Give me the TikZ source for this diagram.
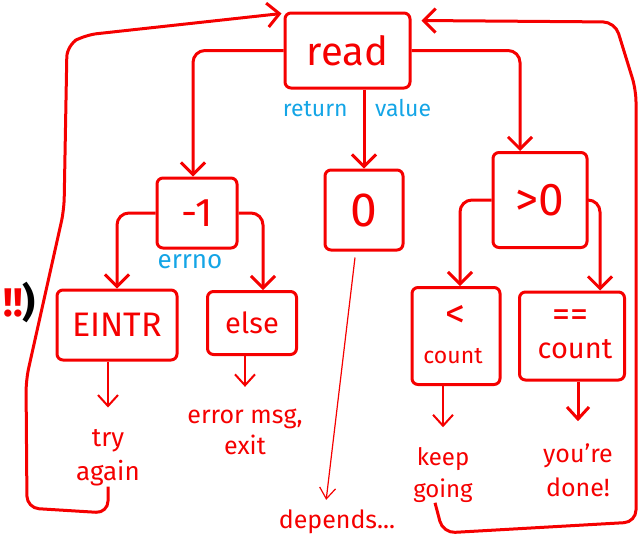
\documentclass[tikz,border=0pt]{standalone}
\usepackage{fontspec}
\setmainfont{Fira Sans}
\usetikzlibrary{arrows.meta}
\definecolor{myred}{RGB}{245,0,0}
\definecolor{myblue}{RGB}{20,165,230}
\begin{document}
\begin{tikzpicture}[x=1pt,y=-1pt,
 box/.style={draw=myred, line width=3pt, rounded corners=6pt, inner sep=0pt, text=myred, align=center},
 flow/.style={draw=myred, line width=3pt, rounded corners=12pt, -{Straight Barb[length=12pt,width=24pt]}},
 small/.style={draw=myred, line width=2pt, -{Straight Barb[length=11pt,width=20pt]}},
 hair/.style={draw=myred, line width=1.2pt, -{Straight Barb[length=11pt,width=16pt]}},
 lbl/.style={text=myred, align=center, inner sep=0pt},
 note/.style={text=myblue, inner sep=0pt}]
\useasboundingbox (0,0) rectangle (639,542);

% boxes
\node[box, minimum width=125pt, minimum height=75pt, font={\fontsize{40}{40}\selectfont}] (read) at (347.5,50.5) {read};
\node[box, minimum width=80pt, minimum height=70pt, font={\fontsize{40}{40}\selectfont}] (m1) at (197,213) {-1};
\node[box, minimum width=78pt, minimum height=80pt, font={\fontsize{48}{48}\selectfont}] (zero) at (364,210) {0};
\node[box, minimum width=94pt, minimum height=95pt, font={\fontsize{46}{46}\selectfont}] (gt) at (540,200) {>0};
\node[box, minimum width=120pt, minimum height=70pt, font={\fontsize{34}{34}\selectfont}] (eintr) at (117,325) {EINTR};
\node[box, minimum width=89pt, minimum height=63pt, font={\fontsize{29}{29}\selectfont}] (else) at (252,323) {else};
\node[box, minimum width=88pt, minimum height=97pt] (lt) at (456,336) {};
\node[box, minimum width=105pt, minimum height=88pt] (eq) at (572,336) {};
\node[lbl, font={\fontsize{40}{40}\selectfont}] (ltsym) at (455,316) {<};
\node[lbl, font={\fontsize{23}{23}\selectfont}] (ltcount) at (453,356) {count};
\node[lbl, font={\fontsize{36}{36}\selectfont}] (eqsym) at (570,318) {==};
\node[lbl, font={\fontsize{29}{29}\selectfont}] (eqcount) at (575,349) {count};

% blue notes
\node[note, font={\fontsize{23}{23}\selectfont}] (rv) at (357,108) {return\hspace{1.2em}value};
\node[note, font={\fontsize{26}{26}\selectfont}] (errno) at (190,262) {errno};

% outcome labels
\node[lbl, font={\fontsize{26}{34}\selectfont}] (try) at (108,458) {try\\again};
\node[lbl, font={\fontsize{25}{31}\selectfont}] (err) at (245,432) {error msg,\\exit};
\node[lbl, font={\fontsize{24}{32}\selectfont}] (keep) at (443,475) {keep\\going};
\node[lbl, font={\fontsize{25}{34}\selectfont}] (done) at (578,470) {you're\\done!};
\node[lbl, font={\fontsize{25}{25}\selectfont}] (dep) at (337,522) {depends...};
\node[lbl, anchor=east, font={\bfseries\fontsize{40}{40}\selectfont}] (bang) at (36,302) {!!\textcolor{black}{)}};

% main connectors
\draw[flow] (read.west) -| ([xshift=-4pt]m1.north);
\draw[flow] (zero.north |- read.south) -- (zero.north);
\draw[flow] (read.east) -| ([xshift=-20pt]gt.north);
\draw[flow] (m1.west) -| (eintr.north);
\draw[flow] (m1.east) -| ([xshift=11pt]else.north);
\draw[flow] (gt.west) -| ([xshift=4pt]lt.north);
\draw[flow] (gt.east) -| ([xshift=28pt]eq.north);

% small arrows
\draw[small, shorten >=22pt] (eintr.south -| try.north) -- (try.north);
\draw[small, shorten >=22pt] (else.south -| err.north) -- (err.north);
\draw[small, shorten >=20pt] (lt.south -| keep.north) -- (keep.north);
\draw[line width=3pt, draw=myred, -{Straight Barb[length=12pt,width=22pt]}, shorten >=22pt] (eq.south -| done.north) -- (done.north);
\draw[hair, shorten >=10pt] ([xshift=-9pt,yshift=-6pt]zero.south) -- ([xshift=-12pt]dep.north);

% loops back to read
\draw[flow] (try.south) -- (108,513) -- (27,508) -- (26,380) -- (64,210) -- (67,45) -- (85,35) -- ([xshift=-2pt,yshift=-2pt]read.north west);
\draw[flow] ([xshift=-8pt]keep.south) -- (443,533) -- (636,522) -- (636,90) -- (615,22) -- ([xshift=10pt,yshift=-9pt]read.north east);
\end{tikzpicture}
\end{document}
